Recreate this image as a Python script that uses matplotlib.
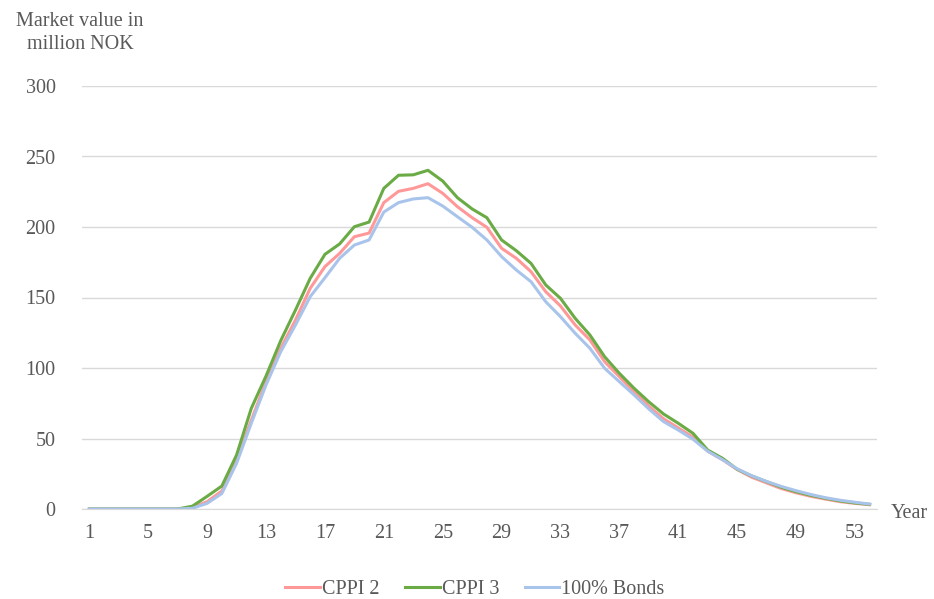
import matplotlib.pyplot as plt

years = list(range(1, 55))

cppi2 = [0, 0, 0, 0, 0, 0, 0, 1, 5.2, 12.8, 34.8, 63, 90.3, 114, 134, 156.5,
         171.9, 181.3, 193.1, 195.7, 217.3, 225.3, 227.4, 230.7, 223.9, 214.4,
         206.6, 199.8, 184.9, 177.8, 168.3, 154.1, 144, 130.5, 119.9, 104.5,
         93.8, 83.2, 73, 64, 57.5, 51, 41, 35, 28, 22.5, 18.5, 14.5, 11.5, 9,
         7, 5.2, 4, 3]

cppi3 = [0, 0, 0, 0, 0, 0, 0, 2, 9, 16.3, 38.3, 71.4, 94.3, 119.4, 141.1, 163.6,
         180.6, 188, 200.2, 203.5, 227.4, 236.7, 237, 240.2, 232.6, 220.8,
         212.8, 206.6, 190.8, 183.2, 174.2, 158.9, 149.4, 135.2, 123.4, 108,
         96.2, 85.6, 76, 67.4, 60.8, 53.7, 41.8, 36, 28.2, 23.4, 19.4, 15.4,
         12.3, 9.7, 7.6, 5.7, 4.3, 3.3]

bonds = [0, 0, 0, 0, 0, 0, 0, 0.5, 4, 11, 32.4, 60.8, 88, 111.6, 130.5, 150.6,
         164, 177.8, 187.2, 190.8, 210.6, 217.3, 219.9, 220.8, 214.9, 207.3,
         199.8, 190.8, 179, 169.5, 161.2, 147, 136.4, 124.6, 114, 99.8,
         90.3, 80.9, 71, 62, 56, 49.5, 41, 35, 28.5, 23.5, 19.5, 16, 13, 10.3,
         8, 6.2, 4.8, 3.5]

xticks = list(range(1, 55, 4))
yticks = [0, 50, 100, 150, 200, 250, 300]

plt.rcParams['font.family'] = ['Liberation Serif', 'DejaVu Serif']
text_color = "#595959"
fs = 14.5

fig = plt.figure(figsize=(9.34, 5.99), dpi=100)
ax = fig.add_axes([82 / 934, 1 - 509 / 599, 795 / 934, 423 / 599])

ax.plot(years, cppi2, color="#FF9999", lw=2.2, label="CPPI 2")
ax.plot(years, cppi3, color="#6AAB45", lw=2.2, label="CPPI 3")
ax.plot(years, bonds, color="#A9C4EB", lw=2.2, label="100% Bonds")

ax.set_xlim(0.5, 54.5)
ax.set_ylim(0, 300)
ax.set_xticks(xticks)
ax.set_yticks(yticks)
ax.grid(axis="y", color="#D9D9D9", lw=1)
ax.set_axisbelow(True)
for s in ["top", "right", "left"]:
    ax.spines[s].set_visible(False)
ax.spines["bottom"].set_color("#D9D9D9")
ax.tick_params(length=0, labelsize=fs, colors=text_color)
ax.tick_params(axis="x", pad=11)
ax.tick_params(axis="y", pad=19)

fig.text(80 / 934, 1 - 33 / 599, "Market value in\nmillion NOK", ha="center",
         va="center", fontsize=fs, color=text_color, linespacing=1.25)
fig.text(891 / 934, 1 - 513 / 599, "Year", ha="left", va="center",
         fontsize=fs, color=text_color)

fig.legend(loc="center", bbox_to_anchor=(475 / 934, 1 - 589 / 599), ncol=3,
           frameon=False, fontsize=fs, labelcolor=text_color,
           handlelength=1.7, handletextpad=0.1, columnspacing=1.3)

fig.savefig("out.png", dpi=100)
